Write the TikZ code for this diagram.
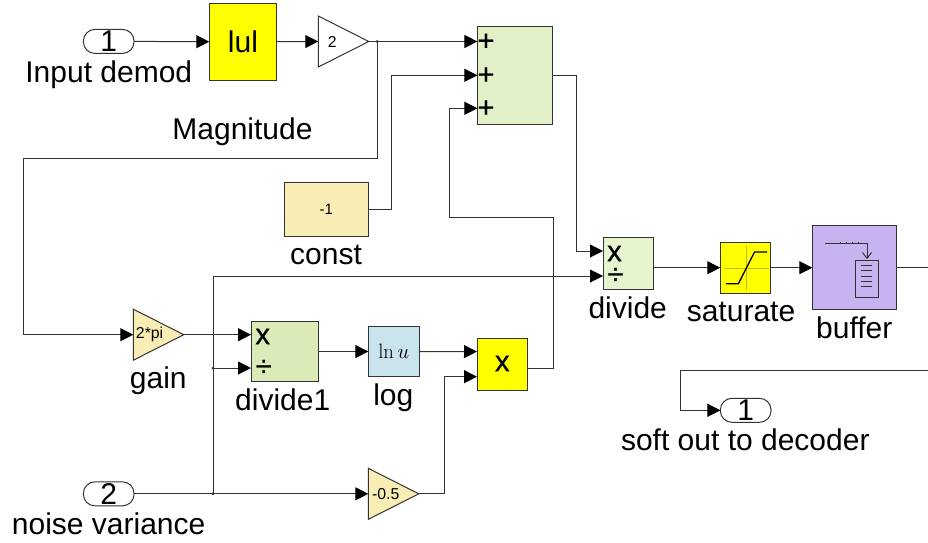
\documentclass[tikz,border=0pt]{standalone}
\usepackage[no-math]{fontspec}
\setmainfont{Liberation Sans}
\newfontfamily\signfont[FakeBold=0.7]{Liberation Sans}
\usetikzlibrary{arrows.meta,shapes.geometric}
\definecolor{wirec}{RGB}{51,51,51}
\definecolor{ink}{RGB}{0,0,0}
\definecolor{edgec}{RGB}{51,51,51}
\definecolor{yel}{RGB}{255,255,0}
\definecolor{axisc}{RGB}{190,190,30}
\definecolor{sumc}{HTML}{E1F0C6}
\definecolor{divc}{HTML}{E6F5CD}
\definecolor{divac}{HTML}{DAEBB8}
\definecolor{gainc}{HTML}{F8EDB4}
\definecolor{logc}{HTML}{C9E3EC}
\definecolor{bufc}{HTML}{C8B3F0}
\tikzset{
  wire/.style={draw=wirec,line width=1pt},
  arrowwire/.style={wire,-{Triangle[length=13pt,width=13pt,ink]}},
  block/.style={draw=edgec,line width=1pt,inner sep=0pt,outer sep=0pt},
  pill/.style={block,fill=white,minimum width=50.6pt,minimum height=24pt,rounded corners=11.5pt,font=\fontsize{30}{30}\selectfont},
  gaintri/.style={block,shape=isosceles triangle,isosceles triangle stretches,minimum width=51pt,minimum height=50.5pt,anchor=lower side,font=\fontsize{15.8}{16}\selectfont},
  lab/.style={anchor=base,inner sep=0pt,font=\fontsize{30}{30}\selectfont},
  sign/.style={inner sep=0pt,font=\fontsize{29}{29}\signfont},
  dotc/.style={circle,fill=wirec,inner sep=0pt,minimum size=3pt},
}
\begin{document}
\begin{tikzpicture}[x=1pt,y=-1pt]
\useasboundingbox (0,0) rectangle (928,542);
% blocks
\node[pill] (in1) at (108.7,41.4) {1};
\node[block,fill=yel,minimum width=67.4pt,minimum height=77.3pt,font=\fontsize{30}{30}\selectfont] (abs) at (243,41.7) {lul};
\node[gaintri,fill=white] (g2) at (318.3,41.5) {2};
\node[block,fill=sumc,minimum width=75.5pt,minimum height=97.5pt] (sum) at (515.2,75.3) {};
\node[block,fill=gainc,minimum width=83.7pt,minimum height=53.7pt,font=\fontsize{15}{15}\selectfont] (const) at (326.2,209.2) {-1};
\node[block,fill=divc,minimum width=50.4pt,minimum height=52.4pt] (div) at (628.2,263.5) {};
\node[block,fill=yel,minimum width=50.5pt,minimum height=50.7pt] (sat) at (745.5,267.7) {};
\node[block,fill=bufc,minimum width=84pt,minimum height=84pt] (buf) at (854.3,267.7) {};
\node[gaintri,fill=gainc] (g3) at (133.3,334.7) {2*pi};
\node[block,fill=divac,minimum width=67.3pt,minimum height=60.4pt] (div1) at (284.7,351.5) {};
\node[block,fill=logc,minimum width=50.7pt,minimum height=50.4pt,font=\fontsize{22}{22}\selectfont] (log) at (393.7,351.5) {$\ln u$};
\node[block,fill=yel,minimum width=50.7pt,minimum height=51.7pt] (prod) at (502.4,364.2) {};
\node[pill] (in2) at (108.7,493.8) {2};
\node[gaintri,fill=gainc] (g4) at (368.3,493.8) {-0.5};
\node[pill] (out1) at (745.7,410.3) {1};
% port coordinates
\coordinate (s1) at (477.4,41.5);
\coordinate (s2) at (477.4,75.3);
\coordinate (s3) at (477.4,108.3);
\coordinate (d1) at (603,251);
\coordinate (d2) at (603,276);
\coordinate (e1) at (251,334.7);
\coordinate (e2) at (251,368);
\coordinate (p1) at (477,351.6);
\coordinate (p2) at (477,376.7);
\coordinate (j1) at (377,41.5);
\coordinate (j2) at (213,493.8);
\coordinate (j3) at (213,368);
\coordinate (rightin) at (928,267.7);
\coordinate (rightout) at (928,370);
% connectors
\draw[arrowwire] (in1.east) -- (abs.west);
\draw[arrowwire] (abs.east) -- (g2.lower side);
\draw[arrowwire] (g2.apex) -- (s1);
\draw[arrowwire] (j1) |- (23.3,158.7) |- (g3.lower side);
\draw[arrowwire] (const.east) -| (391.7,75.3) -- (s2);
\draw[arrowwire] (sum.east) -| (576.7,251) -- (d1);
\draw[arrowwire] (prod.east |- 0,368) -| (553,217.7) -| (449.2,108.3) -- (s3);
\draw[arrowwire] (j2) |- (d2);
\draw[arrowwire] (g3.apex) -- (e1);
\draw[arrowwire] (j3) -- (e2);
\draw[arrowwire] (in2.east) -- (g4.lower side);
\draw[arrowwire] (g4.apex) -| (444,376.7) -- (p2);
\draw[arrowwire] (div1.east) -- (log.west);
\draw[arrowwire] (log.east) -- (p1);
\draw[arrowwire] (div.east |- 0,267.7) -- (sat.west);
\draw[arrowwire] (sat.east) -- (buf.west);
\draw[wire] (buf.east) -- (rightin);
\draw[arrowwire] (rightout) -| (680,410.3) -- (out1.west);
% junctions
\node[dotc] (n1) at (j1) {};
\node[dotc] (n2) at (j2) {};
\node[dotc] (n3) at (j3) {};
% signs
\node[sign] (pl1) at (486,42) {+};
\node[sign] (pl2) at (486,75.8) {+};
\node[sign] (pl3) at (486,108.8) {+};
\node[sign] (dx) at (614.5,253.5) {x};
\node[sign] (dd) at (615.5,276) {÷};
\node[sign] (ex) at (262.7,336.5) {x};
\node[sign] (ed) at (263.7,368) {÷};
\node[sign] (px) at (502.3,363.5) {x};
% saturation icon
\draw[draw=axisc,line width=1pt] (724,268.3) -- (768.7,268.3) (746,246) -- (746,290);
\draw[ink,line width=1.3pt] (726,283.7) -- (738.4,283.7) -- (754.5,252) -- (767,252);
% buffer icon
\draw[edgec,line width=1pt] (825.2,243.3) -- (867,243.3) -- (867,258.3);
\draw[edgec,line width=1pt] (862.5,252.5) -- (867,258.3) -- (871.5,252.5);
\draw[edgec,line width=.8pt] (840,242) -- (840,243.3) (846,242) -- (846,243.3) (852,242) -- (852,243.3) (858,242) -- (858,243.3);
\draw[edgec,line width=1pt] (855.2,260.3) rectangle (878.5,297.3);
\foreach \yy in {265.7,270.7,276,281.7,286.7}
  \draw[edgec,line width=.9pt] (860.6,\yy) -- (872.4,\yy);
% labels
\node[lab] (l1) at (108.8,82) {Input demod};
\node[lab] (l2) at (242.5,139) {Magnitude};
\node[lab] (l3) at (326,264.5) {const};
\node[lab] (l4) at (158.3,388.5) {gain};
\node[lab] (l5) at (282.7,410) {divide1};
\node[lab] (l6) at (393.3,405.5) {log};
\node[lab] (l7) at (627.7,318) {divide};
\node[lab] (l8) at (741,321.5) {saturate};
\node[lab] (l9) at (854.3,338) {buffer};
\node[lab] (l10) at (745.3,450.5) {soft out to decoder};
\node[lab] (l11) at (108.7,534.5) {noise variance};
\end{tikzpicture}
\end{document}
